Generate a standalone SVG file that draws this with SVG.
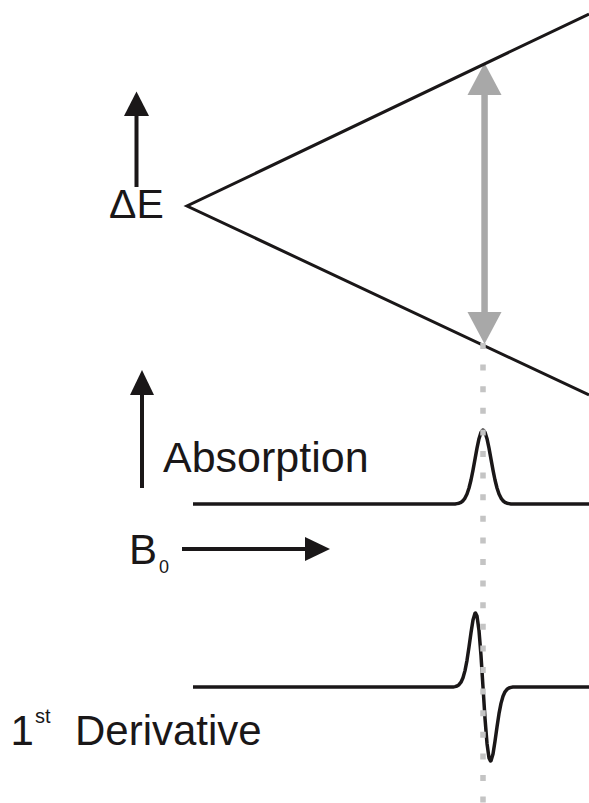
<svg xmlns="http://www.w3.org/2000/svg" width="589" height="803" viewBox="0 0 589 803">
  <style>
    .ln { fill: none; stroke: #1a1718; stroke-width: 3.5; stroke-linejoin: round; }
    .tri { fill: none; stroke: #1a1718; stroke-width: 3; }
    .blk { fill: #1a1718; }
    .gray { fill: #a8a8a8; }
    .txt { font-family: "Liberation Sans", Arial, sans-serif; fill: #1a1718; }
    .dots { fill: none; stroke: #c4c4c4; stroke-width: 5.5; stroke-dasharray: 6 15.6; }
  </style>
  <rect width="589" height="803" fill="#ffffff"/>

  <g id="transition-arrow">
    <rect x="481.3" y="93" width="6.5" height="221" class="gray"/>
    <polygon points="484.5,63 467.5,95 501.5,95" class="gray"/>
    <polygon points="484.5,344 467.5,312 501.5,312" class="gray"/>
  </g>

  <g id="energy-levels">
    <polyline points="589,14 187,206 589,395" class="tri"/>
  </g>

  <g id="deltaE-axis">
    <rect x="134.5" y="112" width="4" height="75" class="blk"/>
    <polygon points="136.5,91.5 124,116 149,116" class="blk"/>
    <text x="109" y="218" font-size="41" class="txt">ΔE</text>
  </g>

  <g id="absorption-axis">
    <rect x="140" y="392" width="4" height="96" class="blk"/>
    <polygon points="142,370 130,395 154,395" class="blk"/>
    <text x="163" y="472" font-size="43" class="txt">Absorption</text>
  </g>

  <g id="absorption-curve">
    <path class="ln" d="M193,504 L455,504 L457,503.6 L459,503.2 L461,502.3 L463,500.75 L465,498.1 L467,494 L469,488 L471,480 L473,470.1 L475,459.1 L477,448.1 L479,438.7 L481,432.3 L483,430 L485,432.3 L487,438.7 L489,448.1 L491,459.1 L493,470.1 L495,480 L497,488 L499,494 L501,498.1 L503,500.75 L505,502.3 L507,503.2 L509,503.6 L511,504 L589,504"/>
  </g>

  <g id="B0-axis">
    <rect x="182" y="547" width="125" height="4" class="blk"/>
    <polygon points="330,549 305,537 305,561" class="blk"/>
    <text x="129" y="564" font-size="42" class="txt">B</text>
    <text x="159" y="573" font-size="18" class="txt">0</text>
  </g>

  <g id="derivative-curve">
    <path class="ln" d="M193,687 L453,687 L455,686.6 L457,686 L459,684.7 L461,682.2 L463,677.7 L465,670.6 L467,660.3 L469,647.1 L471,632.7 L473,620.1 L475,613.3 L475.5,613 L477,616.1 L479,630.6 L481,655.6 L483,687 L485,718.4 L487,743.4 L489,757.9 L490.5,761 L491,760.7 L493,753.9 L495,741.3 L497,726.9 L499,713.7 L501,703.4 L503,696.3 L505,691.8 L507,689.3 L509,688 L511,687.4 L513,687 L589,687"/>
  </g>

  <g id="derivative-label">
    <text x="10.5" y="745" font-size="42" class="txt">1</text>
    <text x="35" y="723" font-size="20" class="txt">st</text>
    <text x="75" y="745" font-size="42" class="txt">Derivative</text>
  </g>

  <g id="connectors">
    <line x1="483" y1="343" x2="483" y2="803" class="dots"/>
  </g>
</svg>
